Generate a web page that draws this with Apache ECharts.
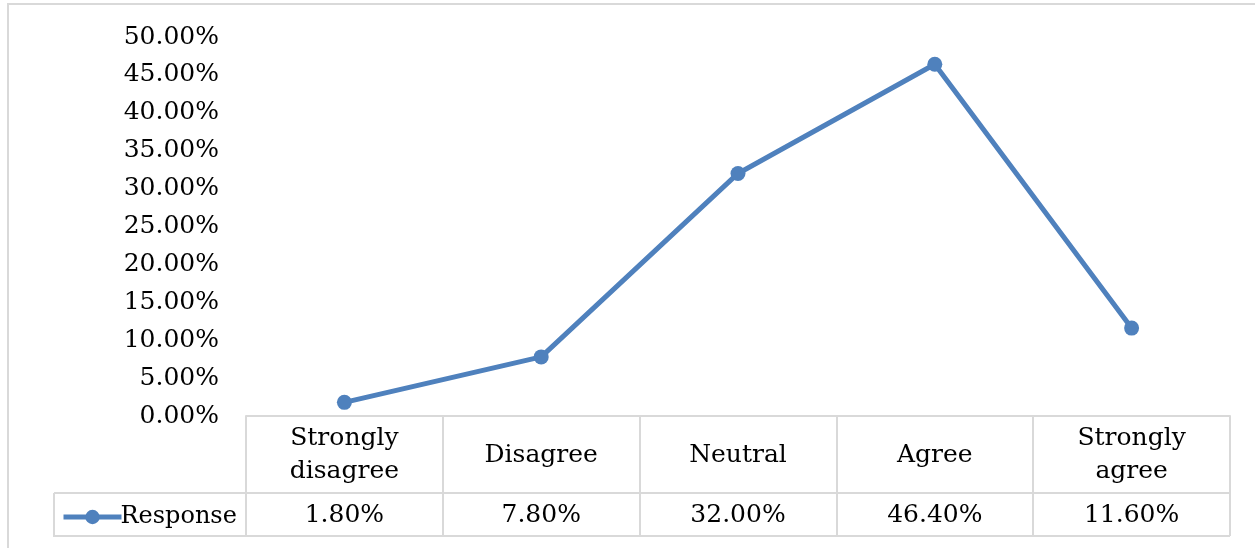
<!DOCTYPE html>
<html>
<head>
<meta charset="utf-8">
<script src="https://cdn.jsdelivr.net/npm/echarts@6/dist/echarts.min.js"></script>
<style>
  html, body { margin: 0; padding: 0; background: #fff; }
  #main { width: 1255px; height: 548px; }
</style>
</head>
<body>
<div id="main"></div>
<script>
// categories, values (percent), y ticks
var categories = ['Strongly\ndisagree', 'Disagree', 'Neutral', 'Agree', 'Strongly\nagree']
var responses = [1.8, 7.8, 32.0, 46.4, 11.6]
var seriesName = 'Response'

var font = 'DejaVu Serif'
var border = '#d9d9d9'
var blue = '#4f81bd'

var myChart = echarts.init(document.getElementById('main'))
var option = {
  backgroundColor: '#fff',
  animation: false,
  grid: { left: 246, right: 25, top: 37, bottom: 132 },
  legend: {
    left: 56,
    top: 500,
    itemWidth: 58,
    itemHeight: 18,
    itemGap: 0,
    lineStyle: { width: 5 },
    textStyle: { fontFamily: font, fontSize: 24, color: '#000', padding: [0, 0, 0, -6] },
    data: [seriesName]
  },
  xAxis: [
    {
      type: 'category',
      data: categories,
      boundaryGap: true,
      axisLine: { show: true, lineStyle: { color: border, width: 2 } },
      axisTick: { show: true, inside: false, length: 120, lineStyle: { color: border, width: 2 } },
      axisLabel: {
        fontFamily: font, fontSize: 25, color: '#000',
        lineHeight: 33, margin: 39, verticalAlign: 'middle', align: 'center'
      }
    },
    {
      type: 'category',
      position: 'bottom',
      offset: 77,
      data: categories,
      boundaryGap: true,
      axisLine: { show: true, lineStyle: { color: border, width: 2 } },
      axisTick: { show: false },
      axisLabel: {
        fontFamily: font, fontSize: 25, color: '#000',
        margin: 22, verticalAlign: 'middle',
        formatter: function (v, i) { return responses[i].toFixed(2) + '%' }
      }
    }
  ],
  yAxis: {
    type: 'value',
    min: 0,
    max: 50,
    interval: 5,
    axisLine: { show: false },
    axisTick: { show: false },
    splitLine: { show: false },
    axisLabel: {
      fontFamily: font, fontSize: 25, color: '#000', margin: 27,
      formatter: function (v) { return v.toFixed(2) + '%' }
    }
  },
  series: [
    {
      name: seriesName,
      type: 'line',
      data: responses,
      symbol: 'circle',
      symbolSize: 15,
      lineStyle: { color: blue, width: 5 },
      itemStyle: { color: blue }
    }
  ],
  graphic: [
    // outer chart border
    { type: 'rect', shape: { x: 8, y: 4, width: 1400, height: 700 }, style: { fill: null, stroke: border, lineWidth: 2 }, silent: true },
    // legend cell of the data table
    { type: 'line', shape: { x1: 54, y1: 493, x2: 246, y2: 493 }, style: { stroke: border, lineWidth: 2 } },
    { type: 'line', shape: { x1: 54, y1: 536, x2: 1230, y2: 536 }, style: { stroke: border, lineWidth: 2 } },
    { type: 'line', shape: { x1: 54, y1: 493, x2: 54, y2: 537 }, style: { stroke: border, lineWidth: 2 } }
  ]
}
myChart.setOption(option)
</script>
</body>
</html>
